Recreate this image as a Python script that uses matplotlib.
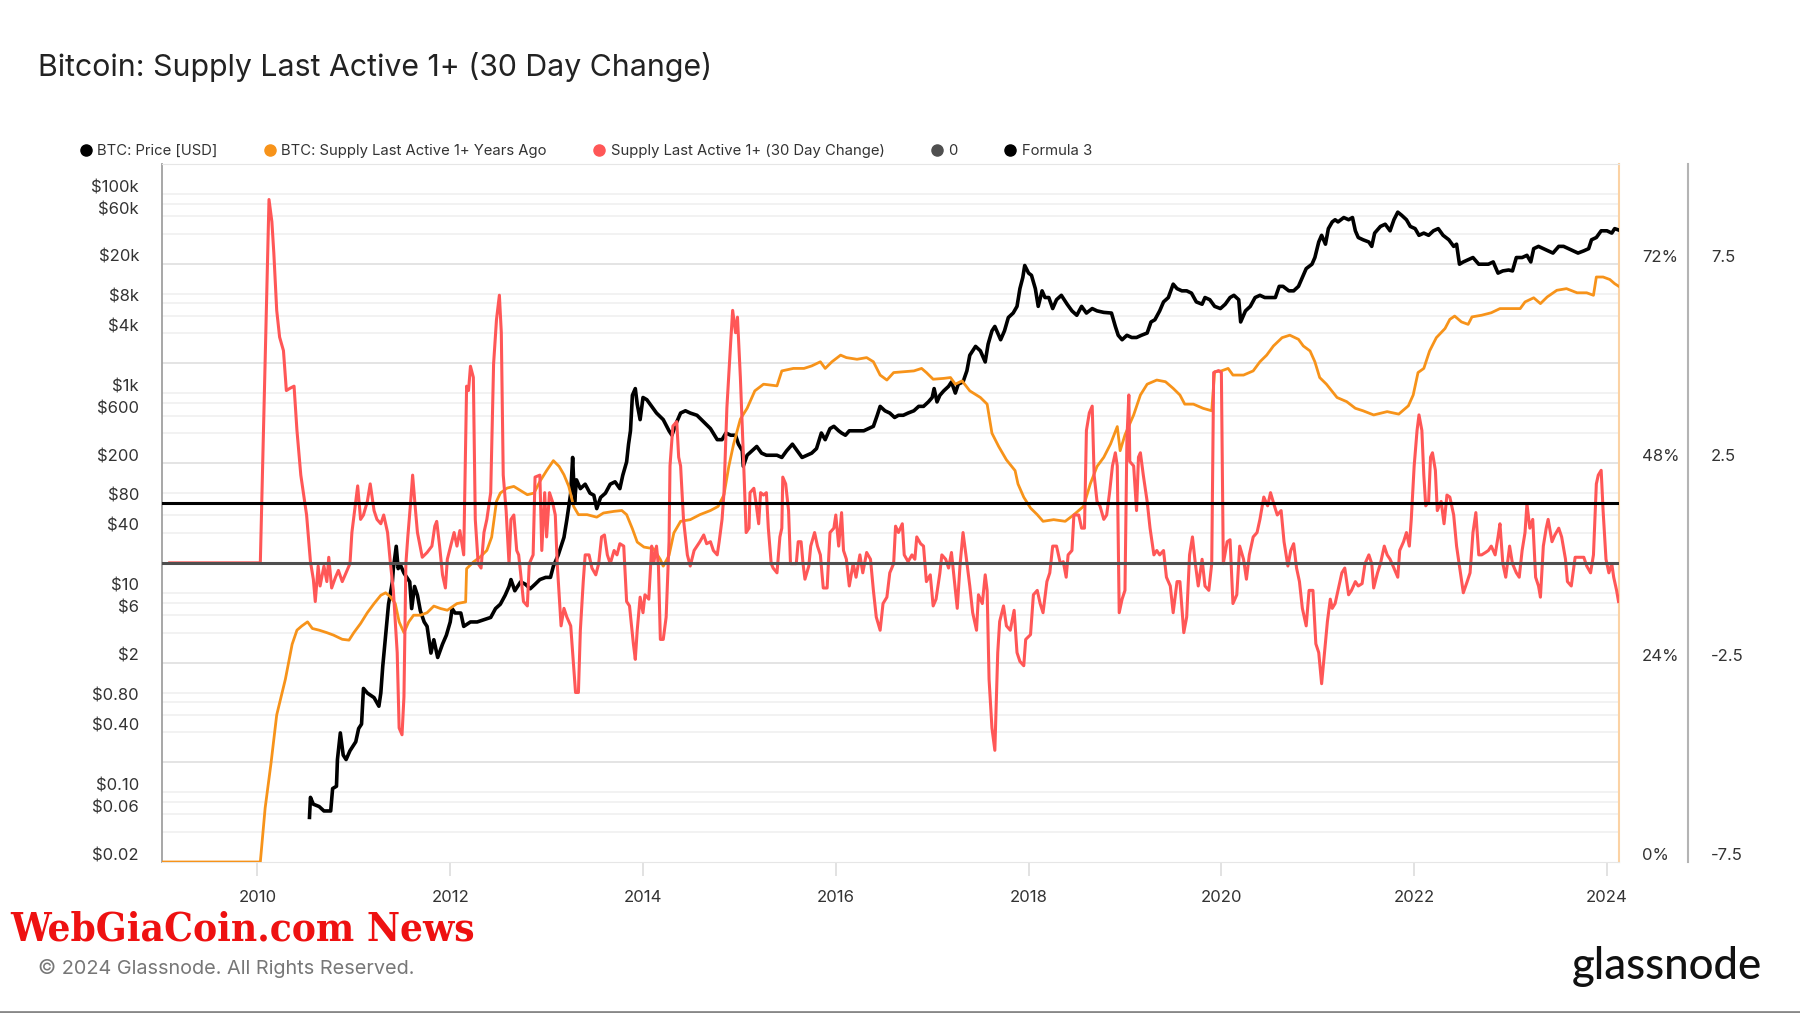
import matplotlib
matplotlib.use("Agg")
import matplotlib.pyplot as plt
import matplotlib.transforms as mtransforms
from matplotlib.lines import Line2D
import numpy as np

plt.rcParams['font.family'] = ['Inter', 'DejaVu Sans']

# --- data (decimal years) ---
price_years = [
    2010.54, 2010.55, 2010.58, 2010.64, 2010.69, 2010.76, 2010.78, 2010.82, 2010.83, 2010.86,
    2010.89, 2010.92, 2010.96, 2011.02, 2011.05, 2011.08, 2011.10, 2011.14, 2011.21, 2011.26,
    2011.28, 2011.30, 2011.33, 2011.36, 2011.40, 2011.41, 2011.44, 2011.46, 2011.48, 2011.52,
    2011.55, 2011.58, 2011.60, 2011.63, 2011.66, 2011.69, 2011.73, 2011.76, 2011.80, 2011.83,
    2011.87, 2011.92, 2011.96, 2012.00, 2012.02, 2012.05, 2012.11, 2012.14, 2012.21, 2012.28,
    2012.35, 2012.42, 2012.47, 2012.52, 2012.57, 2012.61, 2012.63, 2012.67, 2012.73, 2012.78,
    2012.83, 2012.88, 2012.93, 2012.99, 2013.04, 2013.07, 2013.12, 2013.18, 2013.21, 2013.25,
    2013.27, 2013.29, 2013.31, 2013.35, 2013.40, 2013.45, 2013.49, 2013.52, 2013.56, 2013.61,
    2013.66, 2013.71, 2013.76, 2013.79, 2013.83, 2013.85, 2013.87, 2013.89, 2013.92, 2013.94,
    2013.97, 2014.00, 2014.04, 2014.09, 2014.14, 2014.21, 2014.27, 2014.30, 2014.34, 2014.39,
    2014.44, 2014.49, 2014.56, 2014.63, 2014.70, 2014.77, 2014.82, 2014.86, 2014.91, 2014.96,
    2014.99, 2015.03, 2015.04, 2015.08, 2015.13, 2015.18, 2015.23, 2015.28, 2015.34, 2015.39,
    2015.44, 2015.49, 2015.55, 2015.60, 2015.65, 2015.70, 2015.75, 2015.80, 2015.85, 2015.89,
    2015.94, 2015.98, 2016.03, 2016.06, 2016.10, 2016.14, 2016.18, 2016.24, 2016.29, 2016.34,
    2016.39, 2016.43, 2016.46, 2016.51, 2016.56, 2016.61, 2016.65, 2016.70, 2016.75, 2016.81,
    2016.86, 2016.91, 2016.96, 2017.00, 2017.02, 2017.05, 2017.08, 2017.12, 2017.17, 2017.20,
    2017.24, 2017.27, 2017.32, 2017.36, 2017.39, 2017.45, 2017.50, 2017.55, 2017.58, 2017.62,
    2017.65, 2017.69, 2017.71, 2017.75, 2017.79, 2017.84, 2017.88, 2017.91, 2017.94, 2017.96,
    2018.00, 2018.03, 2018.07, 2018.10, 2018.14, 2018.17, 2018.21, 2018.25, 2018.29, 2018.34,
    2018.40, 2018.45, 2018.50, 2018.55, 2018.60, 2018.66, 2018.71, 2018.78, 2018.86, 2018.90,
    2018.93, 2018.97, 2019.02, 2019.07, 2019.12, 2019.17, 2019.23, 2019.27, 2019.31, 2019.36,
    2019.40, 2019.45, 2019.50, 2019.54, 2019.59, 2019.64, 2019.69, 2019.74, 2019.80, 2019.83,
    2019.88, 2019.93, 2019.99, 2020.04, 2020.09, 2020.13, 2020.18, 2020.20, 2020.25, 2020.30,
    2020.35, 2020.40, 2020.45, 2020.50, 2020.56, 2020.60, 2020.64, 2020.70, 2020.75, 2020.80,
    2020.83, 2020.88, 2020.94, 2020.97, 2021.01, 2021.04, 2021.08, 2021.11, 2021.15, 2021.18,
    2021.21, 2021.27, 2021.32, 2021.36, 2021.39, 2021.42, 2021.47, 2021.53, 2021.56, 2021.59,
    2021.65, 2021.70, 2021.75, 2021.79, 2021.83, 2021.87, 2021.92, 2021.96, 2022.01, 2022.05,
    2022.10, 2022.15, 2022.20, 2022.25, 2022.30, 2022.36, 2022.41, 2022.44, 2022.47, 2022.51,
    2022.56, 2022.61, 2022.67, 2022.72, 2022.77, 2022.82, 2022.87, 2022.92, 2022.98, 2023.02,
    2023.06, 2023.12, 2023.17, 2023.21, 2023.24, 2023.29, 2023.34, 2023.39, 2023.44, 2023.50,
    2023.55, 2023.60, 2023.65, 2023.70, 2023.76, 2023.81, 2023.84, 2023.89, 2023.94, 2024.00,
    2024.05, 2024.08, 2024.12,
]
price_vals = [
    0.056, 0.089, 0.076, 0.072, 0.065, 0.065, 0.109, 0.115, 0.213, 0.394,
    0.236, 0.213, 0.261, 0.321, 0.436, 0.483, 1.10, 0.99, 0.89, 0.73,
    0.99, 1.83, 3.76, 7.7, 12.9, 17.5, 29.3, 17.5, 19.4, 15.8,
    14.3, 12.9, 6.96, 11.6, 9.47, 6.61, 5.11, 4.61, 2.49, 3.39,
    2.25, 3.06, 3.76, 5.11, 6.96, 6.28, 6.28, 4.61, 5.11, 5.11,
    5.38, 5.67, 6.96, 7.7, 9.47, 11.6, 13.6, 10.5, 12.9, 12.2,
    11.0, 12.2, 13.6, 14.3, 14.3, 18.5, 23.9, 36.0, 54.2, 100,
    228, 81.6, 136, 111, 123, 100, 95.3, 70, 90.6, 100,
    123, 130, 111, 151, 206, 310, 422, 959, 1119, 781,
    546, 911, 865, 742, 636, 546, 422, 381, 492, 636,
    670, 636, 604, 518, 444, 344, 344, 401, 381, 381,
    310, 266, 186, 240, 266, 294, 252, 240, 240, 240,
    228, 266, 310, 266, 228, 240, 252, 280, 401, 344,
    444, 468, 422, 401, 381, 422, 422, 422, 422, 444,
    468, 604, 742, 670, 636, 574, 604, 604, 636, 670,
    742, 742, 822, 911, 1119, 822, 959, 1062, 1178, 1304,
    1009, 1239, 1304, 1687, 2415, 2965, 2675, 2070, 3120, 4245,
    4700, 3830, 3456, 4245, 5776, 6400, 7470, 11250, 14550, 19200,
    16100, 15300, 11250, 7470, 10690, 9160, 9160, 7100, 8710, 9640,
    7850, 6730, 6080, 7470, 6400, 7100, 6730, 6500, 6400, 4700,
    3830, 3456, 3830, 3640, 3640, 3830, 4035, 5210, 5480, 6730,
    8280, 9160, 12480, 11250, 10690, 10690, 10140, 8280, 7850, 9160,
    8710, 7470, 7100, 7850, 9160, 9640, 8710, 5210, 6730, 7470,
    9160, 9640, 9160, 9160, 9160, 11860, 11860, 10690, 10690, 11860,
    13800, 17860, 19780, 23070, 33030, 38540, 31400, 44970, 52480, 55220,
    52480, 58100, 55220, 58100, 42760, 36640, 34760, 33030, 29850, 40560,
    47300, 49800, 42760, 55220, 65790, 61240, 55220, 47300, 44970, 38540,
    40560, 38540, 42760, 44970, 38540, 34760, 29850, 31400, 19780, 20840,
    21950, 23070, 19780, 19780, 19780, 20840, 16100, 16940, 17300, 16940,
    23070, 23070, 24270, 20840, 28310, 29850, 28310, 26920, 25570, 29850,
    29850, 28310, 26920, 25570, 26920, 28310, 34760, 36640, 42760, 42760,
    40560, 44970, 43600,
]

supply_years = [
    2009.01, 2010.03, 2010.08, 2010.14, 2010.20, 2010.29, 2010.36, 2010.41, 2010.46, 2010.52,
    2010.57, 2010.64, 2010.72, 2010.79, 2010.88, 2010.95, 2011.00, 2011.07, 2011.14, 2011.21,
    2011.28, 2011.33, 2011.38, 2011.43, 2011.47, 2011.52, 2011.57, 2011.62, 2011.69, 2011.76,
    2011.83, 2011.90, 2011.97, 2012.07, 2012.16, 2012.17, 2012.24, 2012.31, 2012.38, 2012.43,
    2012.48, 2012.52, 2012.59, 2012.66, 2012.73, 2012.80, 2012.87, 2012.93, 2013.00, 2013.07,
    2013.13, 2013.18, 2013.23, 2013.28, 2013.33, 2013.42, 2013.52, 2013.59, 2013.70, 2013.78,
    2013.83, 2013.89, 2013.94, 2014.01, 2014.11, 2014.18, 2014.21, 2014.27, 2014.32, 2014.39,
    2014.49, 2014.59, 2014.70, 2014.78, 2014.84, 2014.89, 2014.94, 2015.01, 2015.08, 2015.16,
    2015.25, 2015.39, 2015.44, 2015.56, 2015.67, 2015.75, 2015.84, 2015.89, 2015.96, 2016.05,
    2016.11, 2016.22, 2016.32, 2016.39, 2016.46, 2016.53, 2016.60, 2016.70, 2016.81, 2016.89,
    2016.94, 2017.01, 2017.12, 2017.19, 2017.24, 2017.31, 2017.39, 2017.50, 2017.57, 2017.62,
    2017.69, 2017.77, 2017.86, 2017.89, 2017.95, 2018.02, 2018.09, 2018.15, 2018.26, 2018.38,
    2018.47, 2018.57, 2018.64, 2018.71, 2018.78, 2018.85, 2018.92, 2018.95, 2019.00, 2019.09,
    2019.16, 2019.23, 2019.33, 2019.42, 2019.50, 2019.57, 2019.62, 2019.71, 2019.81, 2019.90,
    2019.93, 2020.00, 2020.07, 2020.12, 2020.23, 2020.33, 2020.40, 2020.47, 2020.54, 2020.63,
    2020.71, 2020.80, 2020.85, 2020.92, 2020.97, 2021.02, 2021.09, 2021.20, 2021.30, 2021.39,
    2021.47, 2021.58, 2021.72, 2021.84, 2021.94, 2021.99, 2022.04, 2022.10, 2022.16, 2022.23,
    2022.32, 2022.37, 2022.42, 2022.49, 2022.56, 2022.60, 2022.70, 2022.80, 2022.89, 2023.01,
    2023.10, 2023.15, 2023.24, 2023.31, 2023.38, 2023.48, 2023.58, 2023.69, 2023.79, 2023.86,
    2023.89, 2023.96, 2024.03, 2024.08, 2024.12,
]
supply_vals = [
    0, 0, 6.5, 11.8, 17.7, 22.0, 26.2, 27.9, 28.4, 28.9,
    28.1, 27.9, 27.6, 27.3, 26.8, 26.7, 27.6, 28.7, 30.0, 31.1,
    32.1, 32.4, 31.9, 31.1, 28.9, 27.6, 28.9, 29.7, 29.7, 30.0,
    30.8, 30.5, 30.3, 31.1, 31.3, 35.3, 36.1, 36.7, 37.5, 39.1,
    43.4, 44.4, 45.0, 45.2, 44.7, 44.2, 44.4, 45.8, 47.1, 48.3,
    47.6, 46.6, 45.2, 42.8, 41.8, 41.8, 41.5, 42.0, 42.2, 42.3,
    41.8, 40.1, 38.5, 37.9, 37.7, 36.4, 35.6, 36.9, 39.6, 41.0,
    41.2, 41.8, 42.3, 42.8, 44.2, 47.6, 50.3, 53.3, 54.6, 56.7,
    57.5, 57.3, 59.1, 59.4, 59.4, 59.7, 60.2, 59.4, 60.2, 61.0,
    60.7, 60.5, 60.7, 60.2, 58.6, 58.0, 58.9, 59.0, 59.1, 59.4,
    58.9, 58.1, 58.2, 58.3, 57.5, 57.9, 56.7, 55.9, 55.1, 51.6,
    50.0, 48.4, 47.1, 45.5, 43.9, 42.6, 41.8, 41.0, 41.2, 41.0,
    41.8, 42.8, 45.5, 47.6, 48.7, 50.3, 52.4, 49.5, 51.4, 53.8,
    56.2, 57.5, 58.0, 57.8, 57.0, 56.2, 55.1, 55.1, 54.6, 54.3,
    59.0, 59.1, 59.4, 58.6, 58.6, 59.1, 60.2, 61.0, 62.1, 63.1,
    63.4, 62.9, 62.1, 61.5, 60.2, 58.3, 57.5, 55.9, 55.4, 54.6,
    54.3, 53.8, 54.2, 53.9, 54.9, 56.2, 58.9, 59.4, 61.5, 63.1,
    64.2, 65.3, 65.7, 65.0, 64.7, 65.6, 65.8, 66.1, 66.6, 66.6,
    66.6, 67.4, 67.9, 67.2, 68.0, 68.8, 69.0, 68.5, 68.5, 68.2,
    70.4, 70.4, 70.1, 69.6, 69.3,
]

change_years = [
    2009.09, 2010.03, 2010.12, 2010.15, 2010.17, 2010.20, 2010.23, 2010.27, 2010.30, 2010.34,
    2010.38, 2010.41, 2010.45, 2010.48, 2010.51, 2010.55, 2010.58, 2010.60, 2010.63, 2010.65,
    2010.69, 2010.72, 2010.74, 2010.77, 2010.81, 2010.84, 2010.88, 2010.91, 2010.96, 2010.98,
    2011.02, 2011.04, 2011.07, 2011.10, 2011.14, 2011.17, 2011.21, 2011.24, 2011.28, 2011.31,
    2011.35, 2011.38, 2011.41, 2011.45, 2011.47, 2011.50, 2011.52, 2011.54, 2011.56, 2011.59,
    2011.61, 2011.64, 2011.66, 2011.71, 2011.76, 2011.81, 2011.84, 2011.86, 2011.89, 2011.92,
    2011.95, 2011.97, 2012.04, 2012.07, 2012.10, 2012.14, 2012.17, 2012.19, 2012.21, 2012.24,
    2012.26, 2012.29, 2012.32, 2012.35, 2012.38, 2012.42, 2012.45, 2012.48, 2012.51, 2012.53,
    2012.55, 2012.58, 2012.61, 2012.63, 2012.66, 2012.69, 2012.71, 2012.73, 2012.76, 2012.80,
    2012.82, 2012.86, 2012.88, 2012.93, 2012.95, 2012.98, 2013.00, 2013.03, 2013.06, 2013.09,
    2013.11, 2013.15, 2013.18, 2013.21, 2013.25, 2013.27, 2013.30, 2013.33, 2013.35, 2013.38,
    2013.40, 2013.44, 2013.47, 2013.51, 2013.54, 2013.57, 2013.60, 2013.63, 2013.66, 2013.70,
    2013.73, 2013.76, 2013.80, 2013.83, 2013.86, 2013.90, 2013.92, 2013.94, 2013.97, 2014.00,
    2014.02, 2014.06, 2014.09, 2014.11, 2014.14, 2014.16, 2014.18, 2014.21, 2014.24, 2014.27,
    2014.28, 2014.31, 2014.35, 2014.37, 2014.39, 2014.42, 2014.46, 2014.49, 2014.53, 2014.56,
    2014.59, 2014.63, 2014.66, 2014.70, 2014.73, 2014.77, 2014.79, 2014.82, 2014.84, 2014.87,
    2014.91, 2014.93, 2014.96, 2014.98, 2015.01, 2015.04, 2015.07, 2015.10, 2015.11, 2015.15,
    2015.17, 2015.20, 2015.22, 2015.25, 2015.28, 2015.30, 2015.33, 2015.35, 2015.39, 2015.42,
    2015.44, 2015.45, 2015.48, 2015.51, 2015.53, 2015.59, 2015.61, 2015.64, 2015.66, 2015.68,
    2015.72, 2015.74, 2015.78, 2015.81, 2015.84, 2015.87, 2015.91, 2015.94, 2015.98, 2016.00,
    2016.03, 2016.06, 2016.08, 2016.11, 2016.14, 2016.18, 2016.21, 2016.25, 2016.28, 2016.32,
    2016.36, 2016.39, 2016.42, 2016.46, 2016.49, 2016.53, 2016.56, 2016.60, 2016.62, 2016.65,
    2016.69, 2016.71, 2016.75, 2016.79, 2016.82, 2016.84, 2016.88, 2016.91, 2016.94, 2016.98,
    2017.01, 2017.04, 2017.08, 2017.10, 2017.14, 2017.17, 2017.20, 2017.24, 2017.26, 2017.29,
    2017.32, 2017.35, 2017.39, 2017.42, 2017.46, 2017.48, 2017.52, 2017.55, 2017.57, 2017.59,
    2017.62, 2017.65, 2017.68, 2017.70, 2017.74, 2017.77, 2017.81, 2017.85, 2017.88, 2017.91,
    2017.95, 2017.97, 2018.02, 2018.05, 2018.09, 2018.12, 2018.15, 2018.19, 2018.22, 2018.25,
    2018.29, 2018.33, 2018.36, 2018.39, 2018.41, 2018.45, 2018.47, 2018.52, 2018.55, 2018.58,
    2018.60, 2018.63, 2018.66, 2018.68, 2018.71, 2018.74, 2018.78, 2018.81, 2018.84, 2018.87,
    2018.90, 2018.92, 2018.94, 2018.97, 2019.00, 2019.02, 2019.04, 2019.05, 2019.09, 2019.12,
    2019.14, 2019.16, 2019.19, 2019.23, 2019.26, 2019.30, 2019.33, 2019.36, 2019.40, 2019.43,
    2019.47, 2019.50, 2019.54, 2019.57, 2019.61, 2019.64, 2019.67, 2019.70, 2019.73, 2019.76,
    2019.80, 2019.83, 2019.87, 2019.90, 2019.92, 2019.97, 2020.00, 2020.02, 2020.06, 2020.09,
    2020.12, 2020.16, 2020.19, 2020.23, 2020.26, 2020.29, 2020.33, 2020.37, 2020.40, 2020.44,
    2020.48, 2020.51, 2020.55, 2020.58, 2020.62, 2020.65, 2020.69, 2020.72, 2020.75, 2020.78,
    2020.81, 2020.84, 2020.88, 2020.91, 2020.95, 2020.98, 2021.01, 2021.04, 2021.07, 2021.10,
    2021.13, 2021.15, 2021.18, 2021.21, 2021.25, 2021.28, 2021.32, 2021.35, 2021.39, 2021.42,
    2021.46, 2021.49, 2021.53, 2021.56, 2021.58, 2021.62, 2021.65, 2021.69, 2021.72, 2021.75,
    2021.79, 2021.83, 2021.85, 2021.89, 2021.92, 2021.95, 2021.97, 2022.00, 2022.03, 2022.05,
    2022.08, 2022.10, 2022.12, 2022.15, 2022.17, 2022.19, 2022.22, 2022.24, 2022.28, 2022.31,
    2022.34, 2022.37, 2022.41, 2022.44, 2022.48, 2022.51, 2022.55, 2022.58, 2022.61, 2022.64,
    2022.67, 2022.70, 2022.74, 2022.77, 2022.80, 2022.84, 2022.87, 2022.89, 2022.92, 2022.95,
    2022.99, 2023.02, 2023.06, 2023.09, 2023.12, 2023.15, 2023.17, 2023.20, 2023.23, 2023.26,
    2023.29, 2023.31, 2023.34, 2023.37, 2023.39, 2023.43, 2023.46, 2023.50, 2023.53, 2023.57,
    2023.59, 2023.63, 2023.67, 2023.70, 2023.76, 2023.79, 2023.83, 2023.86, 2023.89, 2023.91,
    2023.94, 2023.96, 2023.99, 2024.02, 2024.05, 2024.07, 2024.10, 2024.12,
]
change_vals = [
    0, 0, 9.11, 8.55, 7.77, 6.33, 5.66, 5.32, 4.32, 4.38,
    4.43, 3.32, 2.20, 1.70, 1.20, 0.03, -0.41, -0.97, -0.08, -0.58,
    -0.08, -0.47, 0.14, -0.63, -0.36, -0.19, -0.47, -0.30, -0.02, 0.76,
    1.54, 1.93, 1.09, 1.20, 1.54, 1.98, 1.31, 1.09, 0.98, 1.20,
    0.76, -0.02, -0.69, -2.25, -4.14, -4.31, -3.36, -0.02, 0.65, 1.54,
    2.20, 1.31, 0.76, 0.14, 0.26, 0.42, 0.92, 1.04, 0.42, -0.30,
    -0.63, 0.09, 0.76, 0.42, 0.81, 0.20, 4.43, 4.32, 4.93, 4.65,
    1.09, -0.02, -0.13, 0.76, 1.09, 1.76, 4.99, 6.10, 6.71, 5.77,
    2.20, 1.31, -0.02, 1.09, 1.20, 0.31, 0.20, -0.25, -0.97, -1.08,
    -0.02, 0.20, 2.15, 2.20, 0.31, 1.76, 0.65, 1.76, 1.54, 1.20,
    -0.02, -1.58, -1.14, -1.36, -1.58, -2.25, -3.25, -3.25, -1.69, -0.47,
    0.20, 0.20, -0.13, -0.30, -0.02, 0.65, 0.70, 0.20, -0.02, 0.31,
    0.20, 0.48, 0.42, -0.97, -1.08, -2.03, -2.42, -1.69, -0.86, -1.25,
    -0.80, -0.91, 0.42, -0.02, 0.42, -0.08, -1.92, -1.92, -1.36, 0.53,
    2.43, 3.43, 3.54, 2.65, 2.43, 1.09, 0.20, -0.08, 0.31, 0.42,
    0.53, 0.70, 0.48, 0.53, 0.31, 0.20, 0.53, 1.09, 1.76, 3.88,
    5.55, 6.33, 5.77, 6.16, 4.65, 2.76, 0.76, 0.87, 1.76, 1.87,
    1.54, 0.98, 1.76, 1.70, 1.76, 0.87, -0.02, -0.13, -0.25, 0.65,
    0.87, 2.15, 1.98, 1.31, -0.02, -0.02, 0.53, 0.53, -0.02, -0.41,
    -0.08, 0.42, 0.76, 0.42, 0.20, -0.63, -0.63, 0.76, 0.87, 1.20,
    0.42, 1.26, 0.31, 0.09, -0.58, -0.02, -0.36, 0.20, -0.25, 0.26,
    0.09, -0.69, -1.36, -1.69, -1.02, -0.86, -0.25, -0.02, 0.92, 0.76,
    0.98, 0.20, 0.03, 0.20, 0.09, 0.65, 0.48, 0.42, -0.47, -0.30,
    -1.08, -0.91, -0.25, 0.20, 0.09, -0.13, 0.26, -0.69, -1.14, -0.02,
    0.76, 0.20, -0.58, -1.25, -1.69, -0.80, -1.02, -0.30, -0.69, -2.92,
    -4.14, -4.70, -2.25, -1.47, -1.08, -1.58, -1.69, -1.19, -2.25, -2.47,
    -2.58, -1.92, -1.80, -0.80, -0.69, -1.02, -1.25, -0.47, -0.25, 0.42,
    0.42, -0.02, 0.03, -0.36, 0.20, 0.31, 1.20, 1.20, 0.87, 0.87,
    3.32, 3.76, 3.93, 2.20, 1.54, 1.43, 1.09, 1.20, 1.76, 2.43,
    2.76, 2.43, -1.25, -0.91, -0.69, 3.10, 4.21, 2.54, 2.43, 1.31,
    2.65, 2.76, 2.20, 1.54, 0.87, 0.20, 0.31, 0.20, 0.31, -0.36,
    -0.58, -1.25, -0.47, -0.47, -1.75, -1.36, 0.20, 0.65, -0.02, -0.58,
    0.09, -0.58, -0.69, -0.02, 4.77, 4.82, 4.77, -0.02, 0.53, 0.58,
    -1.02, -0.80, 0.42, 0.09, -0.41, 0.20, 0.65, 0.76, 1.09, 1.65,
    1.43, 1.76, 1.43, 1.20, 1.31, 0.53, -0.08, 0.31, 0.48, -0.13,
    -0.47, -1.14, -1.58, -0.69, -0.69, -2.03, -2.25, -3.03, -2.25, -1.47,
    -0.91, -1.14, -1.02, -0.69, -0.25, -0.13, -0.80, -0.69, -0.47, -0.58,
    -0.52, -0.02, 0.20, -0.02, -0.63, -0.25, -0.02, 0.42, 0.20, 0.09,
    -0.13, -0.36, 0.31, 0.53, 0.76, 0.42, 1.09, 2.43, 3.32, 3.71,
    3.32, 2.20, 1.43, 1.54, 2.65, 2.76, 2.32, 1.31, 1.54, 0.98,
    1.70, 1.65, 1.20, 0.42, -0.25, -0.75, -0.47, -0.25, 0.76, 1.26,
    0.20, 0.20, 0.26, 0.31, 0.42, 0.20, 0.65, 0.98, -0.02, -0.36,
    0.42, -0.02, -0.25, -0.36, 0.31, 0.76, 1.48, 0.87, 1.09, -0.36,
    -0.58, -0.86, 0.42, 0.87, 1.09, 0.53, 0.70, 0.87, 0.65, 0.09,
    -0.47, -0.58, 0.14, 0.14, 0.14, -0.08, -0.25, 0.20, 1.98, 2.20,
    2.32, 1.31, 0.09, -0.25, -0.02, -0.36, -0.69, -0.97,
]

zero_level = 0.0
formula3_level = 1.5

price_ticks = [1e5, 6e4, 2e4, 8e3, 4e3, 1e3, 600, 200, 80, 40, 10, 6, 2, 0.8, 0.4, 0.1, 0.06, 0.02]
price_labels = ['$100k', '$60k', '$20k', '$8k', '$4k', '$1k', '$600', '$200', '$80', '$40',
                '$10', '$6', '$2', '$0.80', '$0.40', '$0.10', '$0.06', '$0.02']
pct_ticks = [0, 24, 48, 72]
chg_ticks = [-7.5, -2.5, 2.5, 7.5]
year_ticks = [2010, 2012, 2014, 2016, 2018, 2020, 2022, 2024]

# --- colours ---
c_price = '#000000'
c_supply = '#f7931a'
c_change = '#ff5757'
c_zero = '#4f4f4f'
c_text = '#333333'

fig = plt.figure(figsize=(18, 10.13), dpi=100)
ax = fig.add_axes([162 / 1800, 1 - 862 / 1013, (1619 - 162) / 1800, (862 - 164) / 1013])
ax_pct = ax.twinx()
ax_chg = ax.twinx()

ax.set_xlim(2009.01, 2024.125)
ax.set_yscale('log')
ax.set_ylim(0.02, 2e5)
ax_pct.set_ylim(0, 84)
ax_chg.set_ylim(-7.5, 10)

# gridlines (price minor + percent major)
for d in range(-2, 6):
    for m in (1, 0.8, 0.6, 0.4):
        v = m * 10 ** d
        if 0.02 < v < 2e5:
            ax.axhline(v, color='#f0f0f0', lw=1.2, zorder=0)
for p in range(12, 84, 12):
    ax.axhline(0.02 * 10 ** (7 * p / 84), color='#e2e2e2', lw=1.3, zorder=0)

# series
ax.plot(price_years, price_vals, color=c_price, lw=2.6, zorder=3)
ax_pct.plot(supply_years, supply_vals, color=c_supply, lw=2.0, zorder=3)
ax_chg.plot(change_years, change_vals, color=c_change, lw=2.2, zorder=3)
ax_chg.axhline(zero_level, color=c_zero, lw=2.2, zorder=4)
ax_chg.axhline(formula3_level, color='#000000', lw=2.2, zorder=5)

# spines
for a in (ax, ax_pct, ax_chg):
    for s in a.spines.values():
        s.set_visible(False)
ax.spines['left'].set_visible(True)
ax.spines['left'].set_color('#a0a0a0')
ax.spines['left'].set_linewidth(1.3)
ax.spines['top'].set_visible(True)
ax.spines['top'].set_color('#e6e6e6')
ax.spines['bottom'].set_visible(True)
ax.spines['bottom'].set_color('#e6e6e6')
ax.spines['right'].set_visible(True)
ax.spines['right'].set_color('#fbd2a4')
ax.spines['right'].set_linewidth(1.5)
ax_chg.spines['right'].set_visible(True)
ax_chg.spines['right'].set_position(('axes', (1688 - 162) / (1619 - 162)))
ax_chg.spines['right'].set_color('#b4b4b4')
ax_chg.spines['right'].set_linewidth(1.5)

ax.tick_params(axis='y', which='both', left=False, right=False, labelleft=False)
ax.yaxis.set_minor_locator(matplotlib.ticker.NullLocator())
ax.yaxis.set_major_locator(matplotlib.ticker.NullLocator())
for a in (ax_pct, ax_chg):
    a.set_yticks([])
    a.tick_params(axis='y', which='both', right=False, labelright=False)

ax.set_xticks(year_ticks)
ax.set_xticklabels([str(y) for y in year_ticks])
ax.tick_params(axis='x', length=10, width=1.2, color='#dddddd', pad=10,
               labelsize=12, labelcolor=c_text)

# tick labels (drawn a little above their gridline, as in the original)
up = 6.5 / 100
tr = mtransforms.blended_transform_factory(ax.transAxes, ax.transData)
for v, s in zip(price_ticks, price_labels):
    ax.text(0, v, s, ha='right', va='center', fontsize=12, color=c_text,
            transform=tr + mtransforms.ScaledTranslation(-0.23, up, fig.dpi_scale_trans))
tr = mtransforms.blended_transform_factory(ax_pct.transAxes, ax_pct.transData)
for v in pct_ticks:
    ax_pct.text(1, v, f'{v}%', ha='left', va='center', fontsize=12, color=c_text,
                transform=tr + mtransforms.ScaledTranslation(0.23, up, fig.dpi_scale_trans))
tr = mtransforms.blended_transform_factory(ax_chg.transAxes, ax_chg.transData)
for v in chg_ticks:
    ax_chg.text(1, v, f'{v:g}', ha='left', va='center', fontsize=12, color=c_text,
                transform=tr + mtransforms.ScaledTranslation(0.92, up, fig.dpi_scale_trans))

# title and legend
fig.text(38 / 1800, 1 - 67 / 1013, 'Bitcoin: Supply Last Active 1+ (30 Day Change)',
         fontsize=21.8, color='#222222', ha='left', va='center')

handles = [Line2D([], [], marker='o', ls='', color=c, markersize=8)
           for c in (c_price, c_supply, c_change, c_zero, '#000000')]
names = ['BTC: Price [USD]', 'BTC: Supply Last Active 1+ Years Ago',
         'Supply Last Active 1+ (30 Day Change)', '0', 'Formula 3']
fig.legend(handles, names, loc='center left', bbox_to_anchor=(80 / 1800, 1 - 151 / 1013),
           ncol=5, frameon=False, fontsize=10.7, handlelength=0.75, handletextpad=0.4,
           columnspacing=3.15, borderpad=0, borderaxespad=0, labelcolor=c_text)

# footer
fig.text(10 / 1800, 1 - 929 / 1013, 'WebGiaCoin.com News', fontsize=29, fontweight='bold',
         fontstretch='condensed', color='#ee1111', ha='left', va='center',
         family=['DejaVu Serif', 'DejaVu Sans'])
fig.text(38 / 1800, 1 - 968 / 1013, '\u00a9 2024 Glassnode. All Rights Reserved.',
         fontsize=14.3, color='#777777', ha='left', va='center')
fig.text(1762 / 1800, 1 - 966 / 1013, 'glassnode', fontsize=31.5, color='#111111',
         fontweight='medium', ha='right', va='center', family=['Lato', 'DejaVu Sans'])
fig.add_artist(Line2D([0, 1], [0.001, 0.001], color='#888888', lw=2, transform=fig.transFigure))

fig.savefig('out.png', dpi=100)
